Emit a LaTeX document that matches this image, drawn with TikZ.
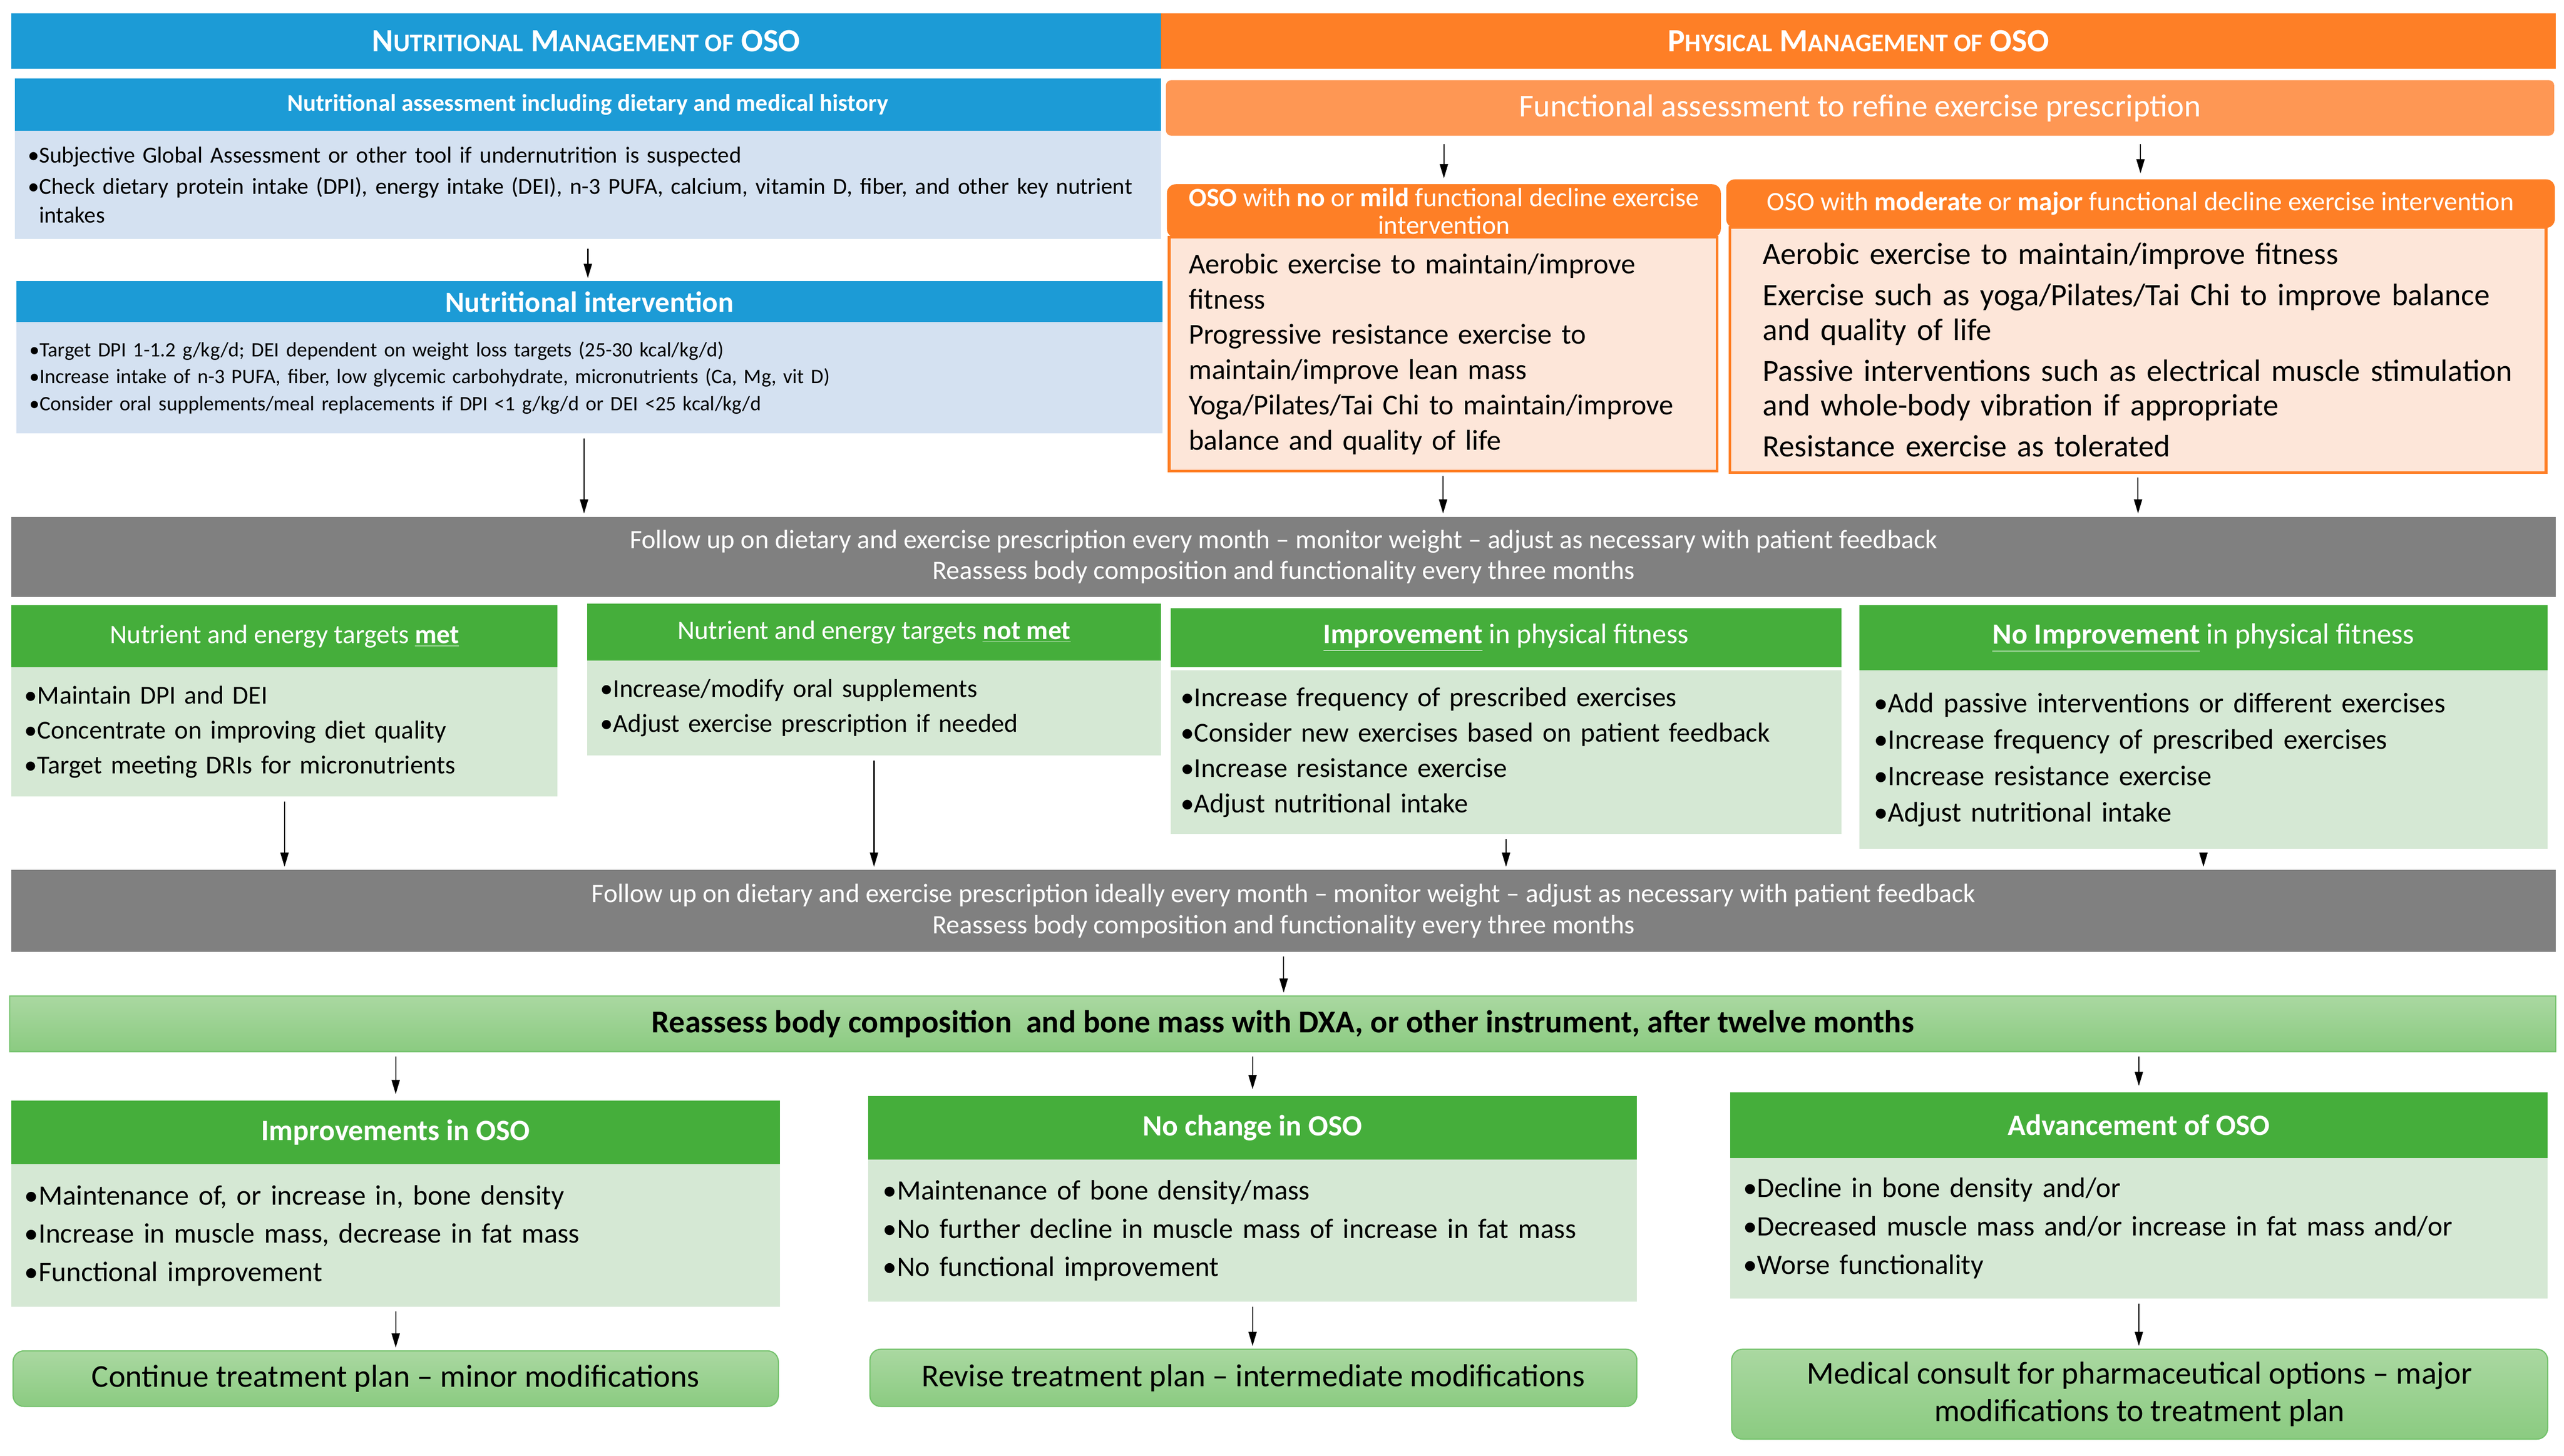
\documentclass[tikz,border=0pt]{standalone}
\usepackage{fontspec}
\setmainfont{Carlito}
\usepackage{xcolor}
\usetikzlibrary{arrows.meta}
\usetikzlibrary{calc}
\usetikzlibrary{positioning}

\definecolor{oblue}{RGB}{28,155,214}
\definecolor{lblue}{RGB}{212,225,241}
\definecolor{oorange}{RGB}{254,127,38}
\definecolor{lorange}{RGB}{254,151,84}
\definecolor{peach}{RGB}{253,230,217}
\definecolor{ggrey}{RGB}{128,128,128}
\definecolor{ggreen}{RGB}{69,174,59}
\definecolor{lgreen}{RGB}{213,232,212}
\definecolor{gtop}{RGB}{170,216,161}
\definecolor{gbot}{RGB}{139,203,129}

\newcommand{\smc}[1]{{\fontsize{13.3}{14}\selectfont #1}}

\begin{document}
\begin{tikzpicture}[x=0.3mm, y=-0.3mm, semithick, >={Triangle[length=2.6mm,width=1.5mm]}]
  \tikzstyle{box}=[anchor=north west, inner sep=0pt, outer sep=0pt]
  \tikzstyle{bluehd}=[box, fill=oblue, text=white, align=center]
  \tikzstyle{bluebd}=[box, fill=lblue, align=left, inner xsep=2.4mm, font=\fontsize{12}{15}\selectfont]
  \tikzstyle{orghd}=[box, fill=oorange, draw=oorange, rounded corners=1.5mm, text=white, align=center]
  \tikzstyle{peachbd}=[box, fill=peach, draw=oorange, line width=0.5mm, align=left, font=\fontsize{15}{18.4}\selectfont]
  \tikzstyle{greyband}=[box, fill=ggrey, text=white, align=center, font=\fontsize{13.9}{16.2}\selectfont]
  \tikzstyle{greenhd}=[box, fill=ggreen, text=white, align=center]
  \tikzstyle{greenbd}=[box, fill=lgreen, align=left, inner xsep=2.4mm]
  \tikzstyle{gradbox}=[box, top color=gtop, bottom color=gbot, draw=ggreen!75, align=center]
  \tikzstyle{flow}=[->, shorten <=0.9mm, shorten >=0.6mm]
  \useasboundingbox (0,0) rectangle (1568,890);

  % top headers
  \node[bluehd, minimum width=210.9mm, minimum height=10.2mm, font=\fontsize{16.9}{17}\bfseries] (nhead) at (7,8)
    {N\smc{UTRITIONAL} M\smc{ANAGEMENT OF} OSO};
  \node[box, fill=oorange, text=white, minimum width=255.9mm, minimum height=10.2mm, font=\fontsize{16.9}{17}\bfseries] (phead) at (710,8)
    {P\smc{HYSICAL} M\smc{ANAGEMENT OF} OSO};

  % nutritional column
  \node[bluehd, minimum width=210.3mm, minimum height=9.6mm, font=\fontsize{12.5}{13}\bfseries] (nah) at (9,48)
    {Nutritional assessment including dietary and medical history};
  \node[bluebd, text width=205.5mm, minimum height=19.8mm] (nab) at (9,80)
    {•Subjective Global Assessment or other tool if undernutrition is suspected\\[0.5mm]
     •Check dietary protein intake (DPI), energy intake (DEI), n-3 PUFA, calcium, vitamin D, fiber, and other key nutrient\\
     \phantom{•}intakes};
  \node[bluehd, minimum width=210.3mm, minimum height=7.5mm, font=\fontsize{15.2}{15.5}\bfseries] (nih) at (10,172)
    {Nutritional intervention};
  \node[bluebd, text width=205.5mm, minimum height=20.4mm, font=\fontsize{10.7}{14}\selectfont] (nib) at (10,197)
    {•Target DPI 1-1.2 g/kg/d; DEI dependent on weight loss targets (25-30 kcal/kg/d)\\
     •Increase intake of n-3 PUFA, fiber, low glycemic carbohydrate, micronutrients (Ca, Mg, vit D)\\
     •Consider oral supplements/meal replacements if DPI <1 g/kg/d or DEI <25 kcal/kg/d};

  % physical column
  \node[box, fill=lorange, rounded corners=1mm, text=white, minimum width=254.7mm, minimum height=10.2mm, font=\fontsize{16.6}{17}\selectfont] (fa) at (713,49)
    {Functional assessment to refine exercise prescription};
  \node[orghd, minimum width=101.4mm, minimum height=9.6mm, font=\fontsize{13.8}{14.5}\selectfont] (mildh) at (714,113)
    {\textbf{OSO} with \textbf{no} or \textbf{mild} functional decline exercise\\intervention};
  \node[peachbd, inner xsep=3.6mm, text width=93.3mm, minimum height=42.9mm] (mildb) at (715,145)
    {Aerobic exercise to maintain/improve\\
     fitness\\
     Progressive resistance exercise to\\
     maintain/improve lean mass\\
     Yoga/Pilates/Tai Chi to maintain/improve\\
     balance and quality of life};
  \node[orghd, minimum width=151.8mm, minimum height=8.7mm, font=\fontsize{13.9}{14}\selectfont] (modh) at (1056,110)
    {OSO with \textbf{moderate} or \textbf{major} functional decline exercise intervention};
  \node[peachbd, inner xsep=6mm, text width=137.7mm, minimum height=45mm, font=\fontsize{16.2}{18}\selectfont] (modb) at (1058,139)
    {Aerobic exercise to maintain/improve fitness\\[1.2mm]
     Exercise such as yoga/Pilates/Tai Chi to improve balance\\
     and quality of life\\[1.2mm]
     Passive interventions such as electrical muscle stimulation\\
     and whole-body vibration if appropriate\\[1.2mm]
     Resistance exercise as tolerated};

  % first follow up
  \node[greyband, minimum width=466.8mm, minimum height=14.7mm] (fu1) at (7,316)
    {Follow up on dietary and exercise prescription every month – monitor weight – adjust as necessary with patient feedback\\
     Reassess body composition and functionality every three months};

  % outcomes after first follow up
  \node[greenhd, minimum width=100.2mm, minimum height=11.4mm, font=\fontsize{13.9}{14}\selectfont] (meth) at (7,370)
    {Nutrient and energy targets \underline{\textbf{met}}};
  \node[greenbd, text width=95.4mm, minimum height=23.7mm, font=\fontsize{13.5}{18.2}\selectfont] (metb) at (7,408)
    {•Maintain DPI and DEI\\ •Concentrate on improving diet quality\\ •Target meeting DRIs for micronutrients};
  \node[greenhd, minimum width=105.3mm, minimum height=10.5mm, font=\fontsize{13.9}{14}\selectfont] (nmh) at (359,369)
    {Nutrient and energy targets \underline{\textbf{not met}}};
  \node[greenbd, text width=100.5mm, minimum height=17.4mm, font=\fontsize{13.5}{18.2}\selectfont] (nmb) at (359,404)
    {•Increase/modify oral supplements\\ •Adjust exercise prescription if needed};
  \node[greenhd, minimum width=123mm, minimum height=10.8mm, font=\fontsize{14.7}{15}\selectfont] (imh) at (716,372)
    {\underline{\textbf{Improvement}} in physical fitness};
  \node[greenbd, inner xsep=1.8mm, text width=119.4mm, minimum height=30mm, font=\fontsize{14.3}{18.5}\selectfont] (imb) at (716,410)
    {•Increase frequency of prescribed exercises\\ •Consider new exercises based on patient feedback\\
     •Increase resistance exercise\\ •Adjust nutritional intake};
  \node[greenhd, minimum width=126.3mm, minimum height=12mm, font=\fontsize{15.3}{15.5}\selectfont] (noimh) at (1137,370)
    {\underline{\textbf{No Improvement}} in physical fitness};
  \node[greenbd, inner xsep=2.7mm, text width=120.9mm, minimum height=32.7mm, font=\fontsize{14.8}{19}\selectfont] (noimb) at (1137,410)
    {•Add passive interventions or different exercises\\ •Increase frequency of prescribed exercises\\
     •Increase resistance exercise\\ •Adjust nutritional intake};

  % second follow up
  \node[greyband, minimum width=466.8mm, minimum height=15mm] (fu2) at (7,532)
    {Follow up on dietary and exercise prescription ideally every month – monitor weight – adjust as necessary with patient feedback\\
     Reassess body composition and functionality every three months};
  \node[gradbox, minimum width=467.1mm, minimum height=10.2mm, font=\fontsize{16.6}{17}\bfseries] (dxa) at (6,609)
    {Reassess body composition\ \ and bone mass with DXA, or other instrument, after twelve months};

  % outcomes after twelve months
  \node[greenhd, minimum width=141mm, minimum height=11.7mm, font=\fontsize{15.4}{16}\bfseries] (ih) at (7,673) {Improvements in OSO};
  \node[greenbd, text width=136.2mm, minimum height=26.1mm, font=\fontsize{14.7}{20}\selectfont] (ib) at (7,712)
    {•Maintenance of, or increase in, bone density\\ •Increase in muscle mass, decrease in fat mass\\ •Functional improvement};
  \node[greenhd, minimum width=141mm, minimum height=11.7mm, font=\fontsize{15.4}{16}\bfseries] (nch) at (531,670) {No change in OSO};
  \node[greenbd, inner xsep=2.7mm, text width=135.6mm, minimum height=26.1mm, font=\fontsize{14.7}{20}\selectfont] (ncb) at (531,709)
    {•Maintenance of bone density/mass\\ •No further decline in muscle mass of increase in fat mass\\ •No functional improvement};
  \node[greenhd, minimum width=150mm, minimum height=12mm, font=\fontsize{15.4}{16}\bfseries] (advh) at (1058,668) {Advancement of OSO};
  \node[greenbd, text width=145.2mm, minimum height=25.8mm, font=\fontsize{14.7}{20}\selectfont] (advb) at (1058,708)
    {•Decline in bone density and/or\\ •Decreased muscle mass and/or increase in fat mass and/or\\ •Worse functionality};

  % plans
  \node[gradbox, rounded corners=2mm, minimum width=140.4mm, minimum height=10.2mm, font=\fontsize{16.6}{17}\selectfont] (cont) at (8,826)
    {Continue treatment plan – minor modifications};
  \node[gradbox, rounded corners=2mm, minimum width=140.7mm, minimum height=10.5mm, font=\fontsize{16.6}{17}\selectfont] (rev) at (532,825)
    {Revise treatment plan – intermediate modifications};
  \node[gradbox, rounded corners=2mm, minimum width=149.7mm, minimum height=16.5mm, font=\fontsize{16.6}{19.6}\selectfont] (med) at (1059,825)
    {Medical consult for pharmaceutical options – major\\ modifications to treatment plan};

  % connectors
  \draw[flow, shorten <=1.8mm] (nab.south) -- (nab.south |- nih.north);
  \draw[flow] ([xshift=-1mm]nib.south) -- ([xshift=-1mm]nib.south |- fu1.north);
  \foreach \b in {mildh,modh}
    \draw[flow, shorten <=1.5mm, shorten >=1.2mm] (\b.north |- fa.south) -- (\b.north);
  \foreach \a/\b in {mildb/fu1, modb/fu1, metb/fu2, nmb/fu2, imb/fu2, noimb/fu2, ib/cont, ncb/rev, advb/med}
    \draw[flow] (\a.south) -- (\a.south |- \b.north);
  \draw[flow] (fu2.south) -- (fu2.south |- dxa.north);
  \foreach \b in {ih,nch,advh}
    \draw[flow, shorten >=1.2mm] (\b.north |- dxa.south) -- (\b.north);
\end{tikzpicture}
\end{document}
